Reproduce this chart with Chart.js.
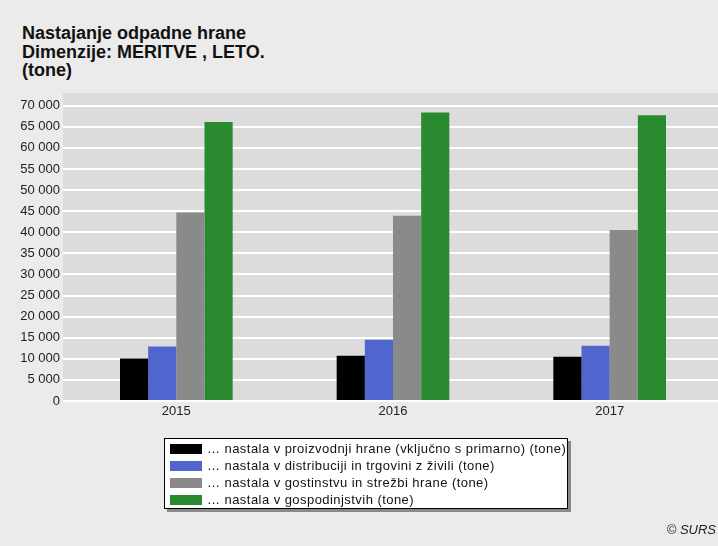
<!DOCTYPE html>
<html>
<head>
<meta charset="utf-8">
<script src="https://cdn.jsdelivr.net/npm/chart.js@4"></script>
<style>
  html, body { margin: 0; padding: 0; background: #ebebeb; }
  body { width: 718px; height: 546px; position: relative; overflow: hidden; font-family: "Liberation Sans", Arial, sans-serif; }
  #title { position: absolute; left: 22px; top: 24px; font-weight: bold; font-size: 18px; line-height: 18.5px; color: #111; }
  #wrap { position: absolute; left: 0; top: 0; width: 718px; height: 546px; }
  #legend { position: absolute; left: 164px; top: 438px; width: 402px; height: 69px; background: #fff;
            border: 1px solid #000; box-shadow: 3px 3px 0 #8a8a8a; font-size: 13px; letter-spacing: 0.45px; color: #111; }
  .lrow { display: flex; align-items: center; height: 17px; margin-left: 5px; }
  .lrow:first-child { margin-top: 1px; }
  .sw { width: 32px; height: 10px; margin-right: 5px; }
  #copy { position: absolute; right: 2px; top: 522px; font-size: 13px; font-style: italic; color: #222; }
</style>
</head>
<body>
<div id="title">Nastajanje odpadne hrane<br>Dimenzije: MERITVE , LETO.<br>(tone)</div>
<div id="wrap"><canvas id="chart" width="718" height="546"></canvas></div>
<div id="legend"></div>
<div id="copy">© SURS</div>
<script>
// ---------- Data (tone) ----------
const years = ["2015", "2016", "2017"];
const seriesNames = [
  "… nastala v proizvodnji hrane (vključno s primarno) (tone)",
  "… nastala v distribuciji in trgovini z živili (tone)",
  "… nastala v gostinstvu in strežbi hrane (tone)",
  "… nastala v gospodinjstvih (tone)"
];
const production = [10100, 10750, 10500];
const distribution = [12900, 14500, 13100];
const catering = [44700, 43900, 40500];
const households = [66100, 68400, 67700];
const yTicks = [0, 5000, 10000, 15000, 20000, 25000, 30000, 35000, 40000, 45000, 50000, 55000, 60000, 65000, 70000];

const colors = ["#000000", "#5066cf", "#8a8a8a", "#2a8a30"];
const seriesValues = [production, distribution, catering, households];

// thousands with a space, like "65 000"
function fmt(v) {
  return String(v).replace(/\B(?=(\d{3})+(?!\d))/g, " ");
}

// grey plot background (reaches 5px left of the bars area, under the grid ticks)
const plotBg = {
  id: "plotBg",
  beforeDraw(chart) {
    const a = chart.chartArea, ctx = chart.ctx;
    ctx.save();
    ctx.fillStyle = "#dcdcdc";
    ctx.fillRect(a.left - 5, a.top, a.right - a.left + 5, a.bottom - a.top);
    ctx.restore();
  }
};

const chart = new Chart(document.getElementById("chart"), {
  type: "bar",
  data: {
    labels: years,
    datasets: seriesNames.map((name, i) => ({
      label: name,
      data: seriesValues[i],
      backgroundColor: colors[i],
      borderWidth: 0,
      categoryPercentage: 0.52,
      barPercentage: 1.0
    }))
  },
  options: {
    responsive: false,
    animation: false,
    layout: { padding: { top: 93, left: 0, right: 0, bottom: 0 } },
    plugins: { legend: { display: false }, tooltip: { enabled: false } },
    scales: {
      x: {
        grid: { display: false, drawTicks: false },
        border: { display: false },
        ticks: { color: "#222", font: { family: "Liberation Sans, Arial", size: 13 }, padding: 3 },
        afterFit: s => { s.height = 145; }
      },
      y: {
        min: 0,
        max: 73000,
        afterBuildTicks: s => { s.ticks = yTicks.map(v => ({ value: v })); },
        grid: { color: "#ffffff", lineWidth: 2, drawTicks: true, tickLength: 5 },
        border: { display: false },
        ticks: { color: "#222", font: { family: "Liberation Sans, Arial", size: 13 }, padding: 3, callback: v => fmt(v) },
        afterFit: s => { s.width = 68; }
      }
    }
  },
  plugins: [plotBg]
});

// ---------- Legend ----------
const legend = document.getElementById("legend");
seriesNames.forEach((name, i) => {
  const row = document.createElement("div");
  row.className = "lrow";
  row.innerHTML = `<div class="sw" style="background:${colors[i]}"></div><span>${name}</span>`;
  legend.appendChild(row);
});
</script>
</body>
</html>
